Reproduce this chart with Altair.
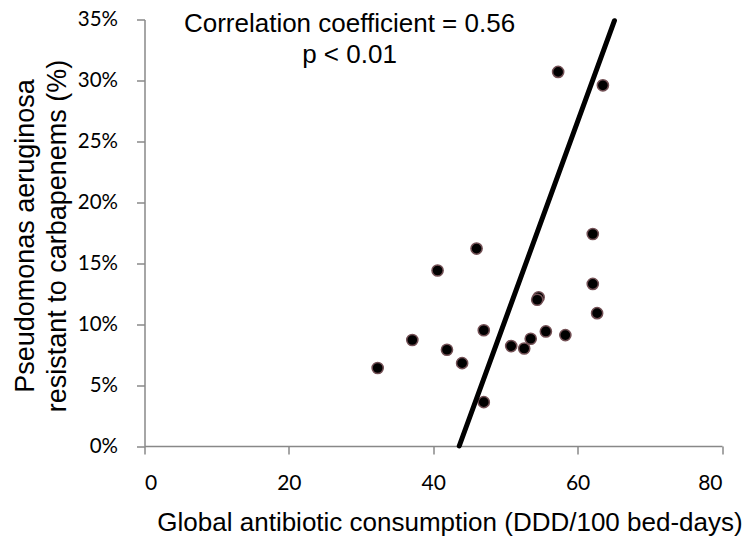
import altair as alt
import pandas as pd

# Scatter data: global antibiotic consumption vs % P. aeruginosa resistant to carbapenems
consumption = [32.3, 37.1, 40.6, 41.9, 44.0, 46.0, 47.0, 47.0, 50.8, 52.6,
               53.5, 54.6, 54.4, 55.6, 58.3, 62.1, 62.1, 62.7, 57.3, 63.5]
resistance = [6.4, 8.7, 14.4, 7.9, 6.8, 16.2, 9.5, 3.6, 8.2, 8.0,
              8.8, 12.2, 12.0, 9.4, 9.1, 17.4, 13.3, 10.9, 30.7, 29.6]

# Trend line end points
line_x = [43.6, 65.1]
line_y = [0.0, 34.9]

# Annotation
ann_text = ["Correlation coefficient = 0.56", "p < 0.01"]
ann_x = [28.4, 28.4]
ann_y = [34.0, 31.45]

x_ticks = [0, 20, 40, 60, 80]
y_ticks = [0, 5, 10, 15, 20, 25, 30, 35]

pts = pd.DataFrame({"x": consumption, "y": resistance})
ln = pd.DataFrame({"x": line_x, "y": line_y})
ann = pd.DataFrame({"x": ann_x, "y": ann_y, "t": ann_text})

AX = "#888888"
LABEL_FONT = "Lato"
TITLE_FONT = "Liberation Sans"

x_scale = alt.Scale(domain=[0, 80], nice=False, zero=True)
y_scale = alt.Scale(domain=[0, 35], nice=False, zero=True)

x_axis = alt.Axis(
    values=x_ticks, grid=False, domainColor=AX, domainWidth=1.5,
    tickColor=AX, tickWidth=1.5, tickSize=8, labelFont=LABEL_FONT,
    labelFontSize=21, labelColor="#000000", labelPadding=18,
    title="Global antibiotic consumption (DDD/100 bed-days)",
    titleFont=TITLE_FONT, titleFontSize=26, titleFontWeight="normal",
    titleColor="#000000", titleX=305, titleY=84, titleAlign="center",
    titleBaseline="alphabetic", titleAnchor="start",
)
y_axis = alt.Axis(
    values=y_ticks, grid=False, domainColor=AX, domainWidth=1.5,
    tickColor=AX, tickWidth=1.5, tickSize=8, labelFont=LABEL_FONT,
    labelFontSize=20.5, labelColor="#000000", labelPadding=19,
    labelExpr="datum.value + '%'",
    title=["Pseudomonas aeruginosa", "resistant to carbapenems (%)"],
    titleFont=TITLE_FONT, titleFontSize=27, titleFontWeight="normal",
    titleColor="#000000", titleAngle=-90, titleX=-111, titleY=216,
    titleAlign="center", titleBaseline="alphabetic", titleLineHeight=32,
    titleAnchor="start",
)

points = alt.Chart(pts).mark_point(
    filled=True, fill="#000000", stroke="#735055", strokeWidth=1.5,
    size=125, opacity=1, shape="circle",
).encode(
    x=alt.X("x:Q", scale=x_scale, axis=x_axis),
    y=alt.Y("y:Q", scale=y_scale, axis=y_axis),
)

line = alt.Chart(ln).mark_line(
    color="#000000", strokeWidth=5, strokeCap="round"
).encode(
    x=alt.X("x:Q", scale=x_scale),
    y=alt.Y("y:Q", scale=y_scale),
)

text = alt.Chart(ann).mark_text(
    font=TITLE_FONT, fontSize=26, color="#000000", align="center",
    baseline="alphabetic",
).encode(
    x=alt.X("x:Q", scale=x_scale),
    y=alt.Y("y:Q", scale=y_scale),
    text="t:N",
)

chart = alt.layer(points, line, text).properties(
    width=577.5, height=426.5,
    autosize=alt.AutoSizeParams(type="none"),
    padding={"left": 136.5, "top": 11.5, "right": 25, "bottom": 95},
    background="white",
).configure_view(stroke=None)

chart.save("out.html", embed_options={"renderer": "svg", "actions": False})
